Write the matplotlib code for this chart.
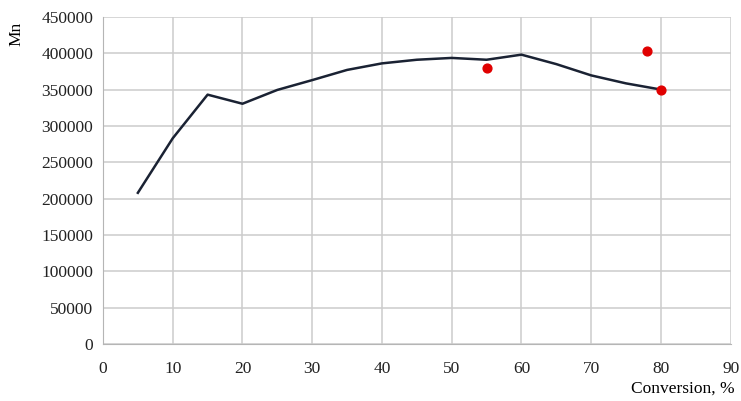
import matplotlib.pyplot as plt

# ============================================================
# Data
# ============================================================

conversion = [5, 10, 15, 20, 25, 30, 35, 40, 45, 50, 55, 60, 65, 70, 75, 80]
mn_calc = [208000, 283000, 343000, 330500, 349500, 363000, 377000, 386000,
           391000, 393500, 391000, 398000, 385000, 369500, 358500, 350000]

exp_conversion = [55, 78, 80]
exp_mn = [379000, 403000, 350000]

# ============================================================
# Plot
# ============================================================

plt.rcParams["font.family"] = ["Liberation Serif", "DejaVu Serif"]

fig = plt.figure(figsize=(7.41, 4.01), dpi=100)
ax = fig.add_axes([0.139, 0.142, 0.847, 0.816])

ax.plot(conversion, mn_calc, color="#1a2233", linewidth=1.8, zorder=3)
ax.scatter(exp_conversion, exp_mn, color="#e00000", s=40, zorder=4)

ax.set_xlim(0, 90)
ax.set_ylim(0, 450000)
ax.set_xticks(range(0, 91, 10))
ax.set_yticks(range(0, 450001, 50000))

ax.grid(True, color="#cccccc", linewidth=1.1)
ax.set_axisbelow(True)

for side in ["top", "right"]:
    ax.spines[side].set_visible(False)
for side in ["left", "bottom"]:
    ax.spines[side].set_color("#b5b5b5")

ax.tick_params(length=0, labelsize=12.5, colors="#222222")
ax.tick_params(axis="y", pad=7)
ax.tick_params(axis="x", pad=12)

fig.text(0.022, 0.915, "Mn", rotation=90, fontsize=12.5, ha="center", va="center")
fig.text(0.992, 0.032, "Conversion, %", fontsize=12.5, ha="right", va="center")

fig.savefig("out.png", dpi=100)
